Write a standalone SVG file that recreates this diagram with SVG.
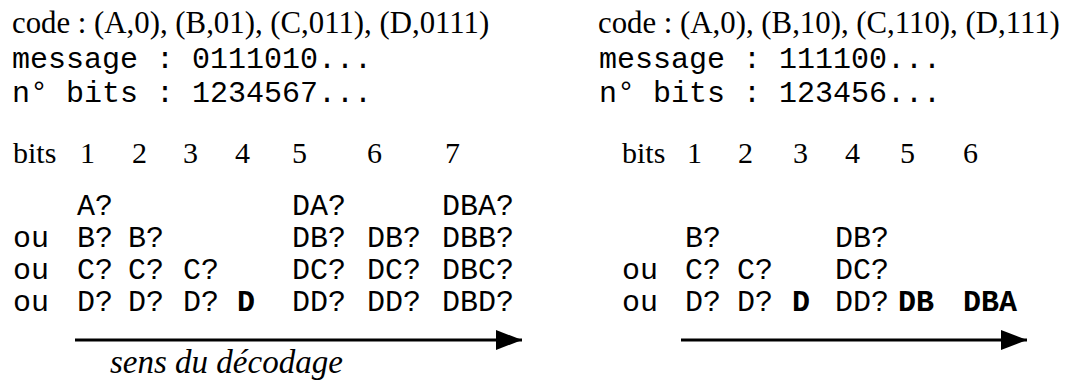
<svg xmlns="http://www.w3.org/2000/svg" width="1068" height="383" viewBox="0 0 1068 383">
<style>
.s{font-family:"Liberation Serif","Times New Roman",serif;font-size:30px;fill:#000}
.c{font-size:30.8px}
.m{font-family:"Liberation Mono","Courier New",monospace;font-size:30px;fill:#000}
.b{font-weight:bold}
.i{font-style:italic;font-size:33px}
.ln{stroke:#000;stroke-width:3;fill:none}
</style>
<defs>
<marker id="ah" markerWidth="26" markerHeight="20" refX="26" refY="10" orient="auto" markerUnits="userSpaceOnUse">
<path d="M0,0 L26,10 L0,20 Z" fill="#000"/>
</marker>
</defs>
<rect width="1068" height="383" fill="#fff"/>
<g id="header-left">
<text class="s c" x="12" y="33">code : (A,0), (B,01), (C,011), (D,0111)</text>
<text class="m" x="12" y="68">message : 0111010...</text>
<text class="m" x="12" y="102">n° bits : 1234567...</text>
</g>
<g id="header-right">
<text class="s c" x="598" y="33">code : (A,0), (B,10), (C,110), (D,111)</text>
<text class="m" x="599" y="68">message : 111100...</text>
<text class="m" x="599" y="102">n° bits : 123456...</text>
</g>
<g id="grid-left">
<text class="s" x="13" y="163">bits</text>
<text class="s" x="80" y="163">1</text>
<text class="s" x="132" y="163">2</text>
<text class="s" x="183" y="163">3</text>
<text class="s" x="235" y="163">4</text>
<text class="s" x="292" y="163">5</text>
<text class="s" x="367" y="163">6</text>
<text class="s" x="445" y="163">7</text>
<text class="m" x="77" y="215">A?</text>
<text class="m" x="292" y="215">DA?</text>
<text class="m" x="442" y="215">DBA?</text>
<text class="m" x="13" y="247">ou</text>
<text class="m" x="77" y="247">B?</text>
<text class="m" x="128" y="247">B?</text>
<text class="m" x="292" y="247">DB?</text>
<text class="m" x="367" y="247">DB?</text>
<text class="m" x="442" y="247">DBB?</text>
<text class="m" x="13" y="279">ou</text>
<text class="m" x="77" y="279">C?</text>
<text class="m" x="128" y="279">C?</text>
<text class="m" x="183" y="279">C?</text>
<text class="m" x="292" y="279">DC?</text>
<text class="m" x="367" y="279">DC?</text>
<text class="m" x="442" y="279">DBC?</text>
<text class="m" x="13" y="311">ou</text>
<text class="m" x="77" y="311">D?</text>
<text class="m" x="128" y="311">D?</text>
<text class="m" x="183" y="311">D?</text>
<text class="m b" x="237" y="311">D</text>
<text class="m" x="292" y="311">DD?</text>
<text class="m" x="367" y="311">DD?</text>
<text class="m" x="442" y="311">DBD?</text>
<text class="s i" x="110" y="373">sens du décodage</text>
</g>
<g id="grid-right">
<text class="s" x="622" y="163">bits</text>
<text class="s" x="687" y="163">1</text>
<text class="s" x="738" y="163">2</text>
<text class="s" x="793" y="163">3</text>
<text class="s" x="845" y="163">4</text>
<text class="s" x="900" y="163">5</text>
<text class="s" x="963" y="163">6</text>
<text class="m" x="685" y="247">B?</text>
<text class="m" x="835" y="247">DB?</text>
<text class="m" x="622" y="279">ou</text>
<text class="m" x="685" y="279">C?</text>
<text class="m" x="737" y="279">C?</text>
<text class="m" x="835" y="279">DC?</text>
<text class="m" x="622" y="311">ou</text>
<text class="m" x="685" y="311">D?</text>
<text class="m" x="737" y="311">D?</text>
<text class="m b" x="792" y="311">D</text>
<text class="m" x="835" y="311">DD?</text>
<text class="m b" x="898" y="311">DB</text>
<text class="m b" x="963" y="311">DBA</text>
</g>
<g id="connectors">
<line class="ln" x1="75" y1="340" x2="522" y2="340" marker-end="url(#ah)"/>
<line class="ln" x1="681" y1="340" x2="1027" y2="340" marker-end="url(#ah)"/>
</g>
</svg>
